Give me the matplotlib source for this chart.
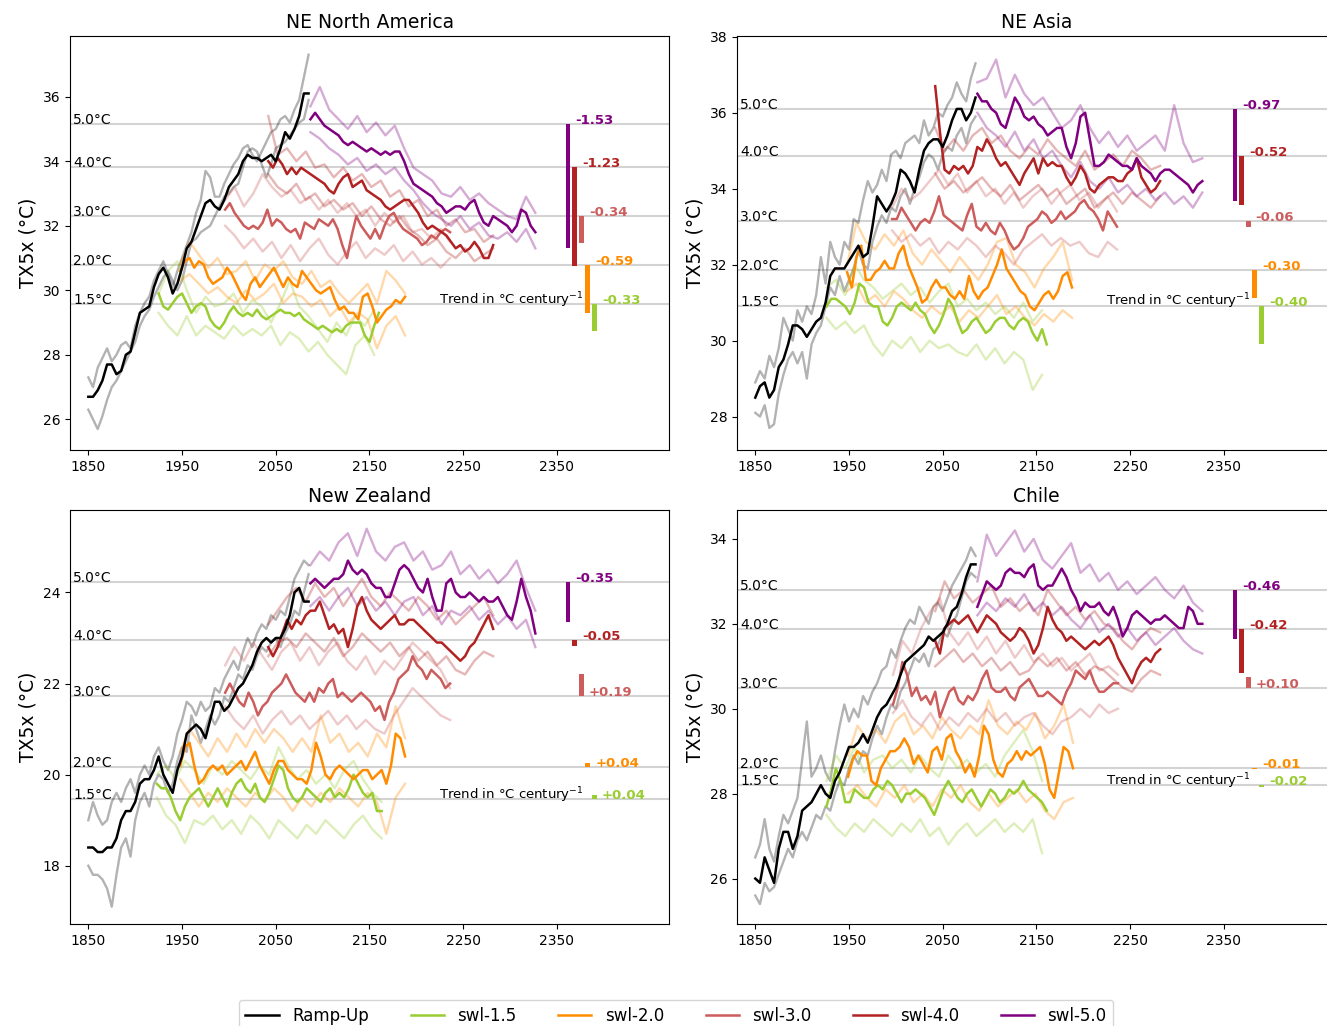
import numpy as np
import matplotlib
matplotlib.use("Agg")
import matplotlib.pyplot as plt
from matplotlib.lines import Line2D
from matplotlib.ticker import MultipleLocator

# TX5x series: ramp-up and ensemble means every 5 years, members every 10 years
LEVEL_NAMES = ['1.5°C', '2.0°C', '3.0°C', '4.0°C', '5.0°C']
SCENARIOS = ['swl-1.5', 'swl-2.0', 'swl-3.0', 'swl-4.0', 'swl-5.0']

# ---------------- NE North America ----------------
NENA_START = [1925, 1948, 1996, 2042, 2087]
NENA_LEVELS = [29.56, 30.78, 32.31, 33.83, 35.14]
NENA_TRENDS = [-0.33, -0.59, -0.34, -1.23, -1.53]
NENA_RAMP = [26.7, 26.7, 26.9, 27.2, 27.7, 27.7, 27.4, 27.5, 28.0, 28.1,
             28.7, 29.3, 29.4, 29.5, 30.1, 30.5, 30.7, 30.4, 29.9, 30.2,
             30.7, 31.3, 31.5, 31.9, 32.3, 32.7, 32.8, 32.6, 32.5, 32.8,
             33.2, 33.4, 33.6, 34.0, 34.2, 34.1, 34.1, 34.0, 34.1, 34.2,
             34.0, 34.4, 34.9, 34.7, 35.0, 35.4, 36.1, 36.1]
NENA_RAMP_M1 = [27.3, 27.0, 27.6, 27.9, 28.2, 27.8, 28.0, 28.3, 28.4, 28.2,
                28.9, 29.3, 29.6, 29.8, 30.3, 30.6, 30.9, 30.5, 30.1, 30.6,
                31.0, 31.4, 31.8, 32.4, 32.8, 33.7, 33.5, 32.9, 32.9, 33.3,
                33.6, 33.9, 34.1, 34.4, 34.5, 34.2, 34.0, 34.3, 34.6, 34.9,
                35.0, 35.3, 35.4, 35.2, 35.6, 35.9, 36.6, 37.3]
NENA_RAMP_M2 = [26.3, 26.0, 25.7, 26.1, 26.6, 27.0, 27.2, 27.5, 27.8, 28.1,
                28.4, 28.9, 29.2, 29.4, 29.8, 30.1, 30.4, 30.6, 30.3, 30.0,
                30.3, 30.9, 31.5, 31.6, 31.8, 31.9, 32.0, 32.3, 32.6, 32.9,
                33.0, 33.2, 33.3, 33.8, 34.3, 34.4, 34.3, 33.9, 33.5, 33.9,
                34.4, 34.5, 34.6, 34.8, 35.0, 35.2, 35.3, 35.9]
NENA_15 = [29.9, 29.5, 29.4, 29.6, 29.8, 29.9, 29.6, 29.3, 29.5, 29.6,
           29.5, 29.1, 28.9, 28.8, 29.0, 29.3, 29.5, 29.3, 29.2, 29.3,
           29.2, 29.4, 29.2, 29.1, 29.2, 29.3, 29.4, 29.3, 29.3, 29.2,
           29.3, 29.1, 29.0, 28.9, 28.8, 28.9, 28.8, 28.7, 28.8, 28.7,
           28.9, 29.0, 29.0, 29.0, 28.6, 28.4, 28.9, 29.3]
NENA_15_M1 = [29.9, 30.6, 30.9, 30.0, 29.3, 29.8, 29.5, 29.6, 29.9, 29.3, 29.7, 29.5,
              29.0, 29.6, 30.3, 29.5, 29.2, 28.8, 28.4, 29.0, 28.6, 29.2, 28.9, 29.4]
NENA_15_M2 = [29.3, 28.9, 28.6, 29.2, 28.6, 28.9, 28.7, 28.5, 28.9, 28.6, 28.8, 28.6,
              28.9, 28.3, 28.7, 28.5, 28.1, 28.4, 28.0, 27.7, 27.4, 28.3, 28.6, 28.0]
NENA_20 = [30.6, 30.9, 31.0, 30.7, 30.9, 30.8, 30.4, 30.2, 30.3, 30.4,
           30.7, 30.5, 30.2, 29.9, 29.7, 30.2, 30.4, 30.1, 30.3, 30.5,
           30.7, 30.4, 30.1, 30.4, 30.2, 30.1, 30.6, 30.4, 30.2, 30.0,
           29.9, 30.0, 30.1, 29.7, 29.4, 29.5, 29.3, 29.3, 29.1, 29.8,
           29.9, 29.5, 29.0, 29.2, 29.4, 29.5, 29.7, 29.6, 29.8]
NENA_20_M1 = [30.8, 31.5, 31.1, 30.7, 31.0, 30.5, 30.6, 30.9, 30.3, 30.8, 30.6, 30.9, 30.4,
              30.2, 30.6, 30.1, 30.3, 29.9, 29.6, 29.9, 30.2, 29.6, 30.6, 30.3, 29.9]
NENA_20_M2 = [30.3, 30.5, 30.2, 29.9, 30.1, 29.8, 29.6, 30.0, 29.7, 29.9, 30.2, 29.6, 29.9,
              29.8, 29.5, 29.7, 29.2, 29.5, 29.0, 29.3, 29.1, 28.2, 28.9, 29.2, 28.6]
NENA_30 = [32.5, 32.7, 32.4, 32.2, 32.0, 31.9, 32.0, 31.9, 32.1, 32.5,
           32.0, 32.2, 32.1, 31.9, 31.8, 31.9, 31.6, 32.1, 32.0, 31.9,
           32.2, 32.1, 32.0, 32.2, 31.9, 31.4, 31.0, 31.7, 32.3, 32.0,
           31.8, 31.6, 31.9, 31.6, 32.0, 32.3, 32.4, 32.1, 31.9, 31.8,
           31.7, 31.6, 31.4, 31.5, 31.7, 31.6, 31.8, 31.9, 31.8]
NENA_30_M1 = [32.8, 33.2, 32.6, 33.0, 33.6, 33.2, 32.9, 33.1, 32.7, 32.9, 32.5, 32.8, 32.4,
              32.7, 32.3, 32.5, 32.0, 32.4, 32.1, 32.3, 31.8, 31.9, 31.6, 31.9, 31.5]
NENA_30_M2 = [32.0, 31.7, 31.3, 31.6, 31.2, 31.5, 31.0, 31.4, 30.9, 31.3, 31.6, 31.1, 30.8,
              31.2, 31.5, 31.0, 31.3, 31.1, 31.4, 30.9, 31.2, 30.8, 31.0, 30.7, 31.0]
NENA_40 = [34.0, 33.8, 34.1, 33.9, 33.6, 33.8, 33.6, 33.8, 33.7, 33.6,
           33.5, 33.4, 33.3, 33.1, 33.0, 33.3, 33.5, 33.6, 33.2, 33.3,
           33.4, 33.1, 33.0, 32.9, 32.8, 32.6, 32.5, 32.6, 32.7, 32.8,
           32.8, 32.6, 32.4, 32.1, 31.9, 32.0, 31.9, 31.8, 31.7, 31.5,
           31.3, 31.4, 31.2, 31.3, 31.5, 31.3, 31.0, 31.0, 31.4]
NENA_40_M1 = [35.4, 34.2, 34.4, 34.0, 34.3, 33.8, 33.9, 33.5, 33.8, 33.4, 33.6, 33.2, 33.4,
              32.9, 33.1, 32.6, 32.8, 32.3, 32.5, 32.0, 32.2, 31.8, 31.9, 31.5, 31.7]
NENA_40_M2 = [33.6, 33.2, 33.0, 33.3, 32.8, 33.0, 32.6, 32.8, 32.5, 32.7, 32.3, 32.6, 32.2,
              32.0, 32.3, 31.9, 31.7, 31.4, 31.6, 31.2, 31.0, 31.3, 30.9, 31.1, 31.3]
NENA_50 = [35.3, 35.5, 35.3, 35.1, 35.0, 34.9, 34.8, 34.6, 34.5, 34.6,
           34.5, 34.4, 34.3, 34.4, 34.3, 34.2, 34.3, 34.2, 34.3, 34.3,
           34.0, 33.6, 33.3, 33.2, 33.1, 33.0, 32.9, 32.7, 32.6, 32.4,
           32.5, 32.6, 32.6, 32.5, 32.7, 32.8, 32.4, 32.1, 32.0, 32.3,
           32.2, 32.1, 32.0, 31.8, 32.0, 32.5, 32.4, 32.0, 31.8]
NENA_50_M1 = [35.7, 36.3, 35.6, 35.3, 35.0, 35.4, 34.9, 35.2, 34.8, 35.1, 34.4, 33.8, 33.6,
              33.4, 33.0, 32.9, 33.2, 32.8, 33.0, 32.7, 32.5, 32.3, 32.2, 32.9, 32.4]
NENA_50_M2 = [34.9, 34.7, 34.4, 34.2, 33.9, 34.1, 33.7, 33.9, 33.6, 33.8, 33.4, 33.1, 32.7,
              32.4, 32.2, 32.0, 32.3, 31.9, 32.1, 31.7, 31.6, 31.8, 31.5, 31.9, 31.3]

# ---------------- NE Asia ----------------
NEAS_START = [1926, 1948, 1996, 2042, 2087]
NEAS_LEVELS = [30.92, 31.86, 33.15, 34.86, 36.11]
NEAS_TRENDS = [-0.40, -0.30, -0.06, -0.52, -0.97]
NEAS_RAMP = [28.5, 28.8, 28.9, 28.5, 28.7, 29.3, 29.5, 29.9, 30.4, 30.4,
             30.3, 30.1, 30.3, 30.5, 30.6, 31.0, 31.7, 31.9, 31.9, 31.9,
             32.1, 32.3, 32.5, 32.2, 32.3, 33.0, 33.8, 33.6, 33.4, 33.6,
             33.9, 34.5, 34.4, 34.2, 33.9, 34.5, 35.0, 35.2, 35.3, 35.3,
             35.1, 35.4, 35.8, 36.1, 36.1, 35.8, 36.0, 36.4]
NEAS_RAMP_M1 = [28.9, 29.2, 29.0, 29.6, 29.3, 29.8, 30.6, 30.3, 30.0, 30.8,
                30.5, 30.9, 30.7, 31.2, 32.2, 31.5, 32.6, 32.2, 32.0, 32.6,
                32.4, 33.2, 33.1, 33.7, 34.2, 33.9, 34.1, 34.5, 34.2, 34.9,
                35.0, 34.8, 35.2, 35.3, 35.4, 35.2, 35.8, 35.4, 35.6, 36.0,
                35.9, 36.2, 36.4, 36.8, 36.5, 36.3, 36.9, 37.3]
NEAS_RAMP_M2 = [28.1, 28.0, 28.3, 27.7, 27.8, 28.6, 29.1, 29.5, 29.7, 29.4,
                29.7, 29.0, 29.9, 30.2, 30.4, 30.9, 31.4, 31.2, 31.7, 31.3,
                31.6, 31.9, 32.4, 32.0, 31.9, 32.6, 33.0, 33.3, 33.1, 33.5,
                33.4, 33.8, 34.0, 33.6, 34.0, 34.3, 34.7, 34.9, 34.8, 34.5,
                34.9, 35.1, 35.0, 35.4, 35.6, 35.2, 35.7, 35.9]
NEAS_15 = [30.9, 31.1, 31.1, 31.0, 30.9, 30.7, 31.0, 31.5, 31.4, 31.0,
           30.9, 30.9, 30.5, 30.4, 30.6, 30.9, 31.0, 30.9, 30.8, 31.0,
           30.8, 30.7, 30.4, 30.2, 30.4, 30.7, 31.1, 30.9, 30.5, 30.2,
           30.3, 30.5, 30.6, 30.4, 30.2, 30.3, 30.5, 30.6, 30.6, 30.4,
           30.3, 30.5, 30.6, 30.5, 30.2, 30.0, 30.3, 29.9]
NEAS_15_M1 = [31.4, 31.6, 31.2, 32.0, 31.6, 31.4, 31.1, 31.3, 31.5, 31.2, 31.4, 31.0,
              31.3, 31.5, 30.9, 31.1, 30.8, 31.0, 30.7, 30.9, 30.6, 31.0, 30.5, 30.8]
NEAS_15_M2 = [30.6, 30.3, 30.5, 30.2, 30.4, 29.9, 29.6, 30.0, 29.8, 30.1, 29.7, 30.0,
              29.8, 29.9, 29.7, 29.6, 29.9, 29.5, 29.8, 29.4, 29.7, 29.5, 28.7, 29.1]
NEAS_20 = [31.8, 31.4, 32.2, 32.5, 31.6, 31.6, 31.8, 31.9, 32.1, 31.9,
           31.9, 32.3, 32.5, 32.0, 31.7, 31.4, 31.0, 31.1, 31.4, 31.6,
           31.4, 31.4, 31.2, 31.1, 31.3, 31.1, 31.7, 31.3, 31.1, 31.3,
           31.4, 31.7, 32.0, 32.4, 31.9, 31.7, 31.5, 31.3, 31.2, 30.9,
           30.8, 31.0, 31.2, 31.3, 31.1, 31.3, 31.7, 31.8, 31.4]
NEAS_20_M1 = [32.0, 33.1, 32.6, 32.4, 32.8, 32.5, 32.9, 32.3, 32.0, 32.4, 32.1, 31.8, 32.2,
              31.9, 31.6, 32.0, 32.6, 32.7, 32.0, 31.8, 31.4, 31.9, 32.2, 32.6, 31.6]
NEAS_20_M2 = [31.3, 31.5, 31.0, 31.2, 30.9, 31.3, 31.1, 30.8, 30.6, 30.9, 30.7, 30.9, 30.5,
              30.8, 30.6, 30.9, 31.2, 30.7, 30.9, 30.6, 30.4, 30.7, 30.5, 30.8, 30.6]
NEAS_30 = [33.2, 33.2, 33.5, 33.3, 33.1, 32.9, 33.1, 33.2, 33.1, 33.4,
           33.8, 33.3, 33.2, 33.1, 33.0, 32.9, 33.3, 33.6, 33.0, 32.9,
           33.1, 32.9, 32.8, 33.1, 32.9, 32.6, 32.4, 32.5, 32.7, 33.0,
           33.1, 33.2, 33.4, 33.3, 33.1, 33.2, 33.4, 33.2, 33.3, 33.4,
           33.6, 33.7, 33.5, 33.4, 33.2, 32.9, 33.4, 33.2, 33.0]
NEAS_30_M1 = [33.5, 34.0, 33.7, 33.9, 34.2, 34.5, 34.1, 34.4, 33.9, 34.2, 33.8, 34.0, 33.6,
              33.9, 33.5, 33.8, 34.0, 33.6, 33.9, 34.1, 33.7, 33.9, 33.5, 33.8, 33.4]
NEAS_30_M2 = [32.9, 32.6, 32.8, 32.5, 32.7, 32.3, 32.6, 32.4, 32.7, 32.5, 32.2, 32.5, 32.3,
              32.0, 32.4, 32.6, 32.8, 32.5, 32.7, 32.5, 32.6, 32.3, 32.2, 32.6, 32.4]
NEAS_40 = [36.7, 35.5, 34.5, 34.4, 34.6, 34.5, 34.6, 34.4, 34.6, 35.1,
           35.0, 35.3, 35.1, 34.8, 34.6, 34.7, 34.5, 34.3, 34.1, 34.4,
           34.6, 34.8, 34.4, 34.8, 34.6, 34.7, 34.6, 34.6, 34.3, 34.1,
           34.3, 34.6, 34.4, 34.0, 33.9, 34.1, 34.2, 34.3, 34.3, 34.2,
           34.2, 34.4, 34.5, 34.8, 34.3, 34.1, 33.9, 34.0, 34.2]
NEAS_40_M1 = [35.6, 35.0, 35.3, 35.0, 35.4, 35.6, 35.2, 35.4, 35.0, 34.8, 35.1, 34.9, 35.3,
              35.0, 34.8, 34.6, 35.0, 34.5, 34.7, 34.9, 34.6, 35.0, 34.8, 34.5, 34.6]
NEAS_40_M2 = [34.4, 34.0, 34.2, 33.9, 34.1, 34.3, 34.0, 33.8, 34.1, 33.7, 33.9, 34.1, 33.8,
              34.0, 33.6, 33.8, 34.0, 33.5, 33.7, 33.9, 33.6, 33.9, 33.7, 33.5, 33.8]
NEAS_50 = [36.5, 36.3, 36.3, 36.1, 36.0, 35.7, 35.6, 36.0, 36.4, 36.2,
           35.9, 35.8, 35.9, 35.7, 35.6, 35.4, 35.5, 35.6, 35.6, 35.1,
           34.8, 35.2, 35.9, 36.0, 35.3, 34.6, 34.6, 34.7, 34.9, 34.8,
           34.7, 34.6, 34.6, 34.5, 34.8, 34.6, 34.5, 34.4, 34.2, 34.4,
           34.5, 34.5, 34.4, 34.3, 34.2, 34.1, 33.9, 34.1, 34.2]
NEAS_50_M1 = [36.8, 36.9, 37.4, 36.4, 37.0, 36.5, 36.2, 36.4, 36.0, 35.6, 35.8, 36.2, 35.6,
              35.2, 35.5, 35.1, 35.4, 35.0, 35.2, 35.4, 35.0, 36.2, 35.2, 34.7, 34.8]
NEAS_50_M2 = [36.0, 35.6, 35.4, 35.1, 35.5, 35.0, 35.3, 34.8, 35.0, 34.6, 34.3, 34.7, 34.2,
              34.0, 34.3, 33.9, 34.1, 33.8, 34.0, 33.7, 33.9, 33.6, 33.8, 33.5, 33.9]

# ---------------- New Zealand ----------------
NZ_START = [1923, 1948, 1996, 2042, 2087]
NZ_LEVELS = [19.46, 20.16, 21.73, 22.95, 24.23]
NZ_TRENDS = [0.04, 0.04, 0.19, -0.05, -0.35]
NZ_RAMP = [18.4, 18.4, 18.3, 18.3, 18.4, 18.4, 18.6, 19.0, 19.2, 19.2,
           19.4, 19.8, 19.9, 19.9, 20.1, 20.4, 20.0, 19.8, 19.6, 20.1,
           20.4, 20.9, 21.0, 21.1, 21.0, 20.8, 21.2, 21.6, 21.6, 21.4,
           21.5, 21.7, 21.9, 22.0, 22.2, 22.4, 22.7, 22.9, 23.0, 22.9,
           23.0, 23.0, 23.2, 23.5, 24.0, 24.1, 23.8, 23.8]
NZ_RAMP_M1 = [19.0, 19.4, 19.1, 18.9, 19.0, 19.4, 19.6, 19.4, 19.7, 19.9,
              19.6, 20.0, 20.2, 20.0, 20.4, 20.6, 20.3, 20.1, 20.4, 20.9,
              21.2, 21.6, 21.5, 21.3, 21.6, 21.4, 21.5, 21.9, 21.8, 22.1,
              22.3, 22.5, 22.3, 22.7, 23.0, 22.8, 23.1, 23.3, 23.2, 23.5,
              23.4, 23.6, 23.5, 23.9, 24.3, 24.5, 24.7, 24.6]
NZ_RAMP_M2 = [18.0, 17.8, 17.8, 17.7, 17.5, 17.1, 17.8, 18.4, 18.6, 18.2,
              19.0, 19.4, 19.6, 19.3, 19.8, 20.0, 19.9, 19.6, 19.8, 20.3,
              20.6, 20.5, 21.3, 21.0, 20.7, 21.0, 21.3, 21.1, 21.3, 21.7,
              21.6, 21.9, 22.2, 22.1, 22.4, 22.3, 22.6, 22.8, 22.7, 22.9,
              23.0, 22.8, 23.1, 23.3, 23.6, 23.5, 24.0, 24.4]
NZ_15 = [19.8, 19.7, 19.7, 19.5, 19.2, 19.0, 19.3, 19.5, 19.6, 19.7,
         19.5, 19.3, 19.5, 19.7, 19.5, 19.3, 19.6, 19.8, 19.9, 19.7,
         19.6, 19.8, 19.5, 19.4, 19.6, 19.9, 20.2, 20.1, 19.7, 19.5,
         19.4, 19.5, 19.7, 19.6, 19.5, 19.4, 19.6, 19.7, 19.5, 19.6,
         19.5, 19.7, 20.0, 19.8, 19.6, 19.5, 19.6, 19.2, 19.2]
NZ_15_M1 = [20.0, 20.2, 19.9, 20.3, 20.1, 19.8, 20.2, 20.0, 20.3, 20.1, 19.9, 20.2, 20.0,
            20.6, 20.2, 19.9, 20.1, 19.8, 20.0, 19.7, 20.1, 20.3, 19.9, 19.6, 19.4]
NZ_15_M2 = [19.5, 19.1, 18.9, 18.5, 19.0, 18.9, 19.1, 18.8, 19.0, 18.7, 19.1, 18.9, 18.6,
            19.0, 18.8, 18.6, 18.9, 18.7, 19.0, 18.8, 18.6, 18.9, 19.1, 18.8, 18.6]
NZ_20 = [20.2, 20.6, 20.7, 20.2, 19.8, 19.9, 20.1, 20.2, 20.1, 20.2,
         20.0, 20.1, 20.2, 20.3, 20.1, 20.3, 20.5, 20.2, 20.0, 19.8,
         20.1, 20.3, 20.3, 20.1, 20.0, 19.9, 19.9, 19.8, 20.1, 20.7,
         20.4, 20.0, 19.9, 20.1, 20.2, 20.1, 20.0, 19.9, 20.0, 20.1,
         20.1, 19.9, 20.0, 20.1, 19.8, 20.2, 20.9, 20.8, 20.4]
NZ_20_M1 = [20.5, 21.0, 20.7, 20.4, 20.8, 20.5, 20.9, 20.6, 21.0, 20.7, 21.0, 20.8, 20.5,
            20.8, 20.5, 21.3, 20.7, 20.9, 20.5, 20.7, 20.4, 20.9, 20.6, 21.5, 20.8]
NZ_20_M2 = [19.9, 19.6, 19.3, 19.6, 19.4, 19.7, 19.5, 19.3, 19.6, 19.4, 19.7, 19.5, 19.2,
            19.5, 19.3, 19.6, 19.4, 19.7, 19.5, 19.3, 19.6, 19.4, 18.7, 19.5, 19.8]
NZ_30 = [21.8, 22.0, 21.8, 21.6, 21.5, 21.8, 21.6, 21.3, 21.5, 21.6,
         21.8, 21.9, 22.0, 22.2, 22.0, 21.8, 21.7, 21.6, 21.8, 21.6,
         21.9, 21.8, 22.0, 22.1, 21.7, 21.8, 21.7, 21.6, 21.7, 21.8,
         21.7, 21.6, 21.4, 21.5, 21.2, 21.6, 21.8, 22.1, 22.2, 22.3,
         22.6, 22.4, 22.3, 22.1, 22.3, 22.2, 22.1, 21.9, 22.0]
NZ_30_M1 = [22.4, 22.8, 22.5, 22.9, 22.6, 22.3, 22.7, 22.9, 22.5, 22.8, 22.4, 22.7, 22.9,
            22.5, 22.3, 22.6, 22.2, 22.5, 22.3, 22.6, 22.9, 22.7, 22.5, 22.3, 21.9]
NZ_30_M2 = [21.5, 21.2, 21.0, 21.3, 20.9, 21.2, 21.4, 21.1, 21.3, 21.0, 21.2, 21.4, 21.1,
            21.3, 21.0, 21.2, 21.0, 20.9, 21.3, 21.6, 21.9, 21.7, 21.5, 21.3, 21.2]
NZ_40 = [22.8, 22.6, 22.8, 23.1, 23.4, 23.2, 23.4, 23.3, 23.5, 23.6,
         23.6, 23.8, 23.5, 23.2, 23.3, 23.1, 23.2, 22.8, 23.2, 23.7,
         23.9, 23.6, 23.4, 23.3, 23.2, 23.3, 23.4, 23.5, 23.3, 23.3,
         23.4, 23.4, 23.3, 23.2, 23.1, 23.0, 22.9, 22.9, 22.8, 22.7,
         22.6, 22.5, 22.6, 22.8, 22.9, 23.1, 23.3, 23.5, 23.2]
NZ_40_M1 = [23.3, 23.6, 23.9, 24.1, 23.8, 24.2, 23.9, 24.1, 23.7, 24.0, 24.3, 23.9, 23.7,
            24.0, 23.8, 23.6, 23.9, 23.7, 23.4, 23.6, 23.3, 23.5, 23.7, 23.9, 23.5]
NZ_40_M2 = [22.6, 22.9, 23.0, 22.8, 23.1, 22.9, 22.7, 23.0, 22.6, 22.8, 23.1, 22.9, 22.7,
            22.9, 22.6, 22.8, 22.5, 22.7, 22.4, 22.6, 22.3, 22.2, 22.5, 22.7, 22.6]
NZ_50 = [24.2, 24.3, 24.2, 24.1, 24.2, 24.3, 24.3, 24.4, 24.7, 24.5,
         24.4, 24.5, 24.4, 24.2, 24.1, 24.1, 23.9, 23.9, 24.2, 24.5,
         24.6, 24.5, 24.3, 24.1, 24.0, 24.3, 23.9, 23.6, 23.6, 24.2,
         24.3, 24.0, 23.9, 23.9, 24.0, 23.9, 23.8, 23.9, 23.8, 23.8,
         23.9, 23.7, 23.5, 23.4, 23.8, 24.3, 23.9, 23.6, 23.1]
NZ_50_M1 = [24.6, 24.9, 24.7, 25.1, 25.3, 24.8, 25.4, 24.9, 24.7, 25.0, 25.1, 24.7, 24.9,
            24.5, 24.6, 24.9, 24.4, 24.6, 24.3, 24.5, 24.2, 24.4, 24.7, 24.1, 23.6]
NZ_50_M2 = [23.7, 23.9, 23.6, 23.9, 24.1, 23.7, 23.9, 23.6, 23.8, 23.5, 23.8, 23.9, 23.5,
            23.7, 23.3, 23.6, 23.5, 23.7, 23.4, 23.6, 23.3, 23.5, 23.2, 23.4, 22.8]

# ---------------- Chile ----------------
CL_START = [1926, 1949, 1997, 2042, 2087]
CL_LEVELS = [28.20, 28.61, 30.50, 31.88, 32.80]
CL_TRENDS = [-0.02, -0.01, 0.10, -0.42, -0.46]
CL_RAMP = [26.0, 25.9, 26.5, 26.2, 25.9, 26.7, 27.1, 27.1, 26.7, 27.0,
           27.6, 27.7, 27.8, 28.0, 28.2, 28.0, 27.9, 28.3, 28.5, 28.8,
           29.1, 29.1, 29.2, 29.4, 29.2, 29.5, 29.8, 30.0, 30.1, 30.3,
           30.5, 30.8, 31.1, 31.2, 31.3, 31.4, 31.5, 31.7, 31.6, 31.7,
           31.8, 32.0, 32.3, 32.4, 32.7, 33.1, 33.4, 33.4]
CL_RAMP_M1 = [26.5, 26.8, 27.4, 26.7, 26.4, 27.0, 27.5, 27.3, 27.6, 27.9,
              28.8, 29.7, 28.4, 28.6, 28.9, 28.5, 28.3, 29.0, 29.6, 30.1,
              29.7, 30.0, 29.8, 30.3, 30.1, 30.4, 30.6, 30.9, 31.0, 31.4,
              31.2, 31.6, 31.9, 32.1, 32.0, 32.4, 32.2, 32.0, 32.4, 32.5,
              32.3, 32.6, 32.9, 33.1, 33.3, 33.5, 33.8, 33.6]
CL_RAMP_M2 = [25.6, 25.4, 25.9, 25.7, 25.8, 26.1, 26.4, 26.7, 26.5, 26.9,
              27.1, 26.9, 27.2, 27.5, 27.4, 27.7, 27.6, 28.0, 28.3, 28.2,
              28.6, 28.9, 28.7, 29.0, 28.9, 29.3, 29.6, 29.4, 29.8, 30.1,
              30.0, 30.4, 30.6, 30.9, 31.2, 31.1, 31.3, 31.0, 31.4, 31.5,
              31.8, 31.7, 32.0, 32.2, 32.6, 33.0, 33.2, 33.1]
CL_15 = [27.7, 28.1, 28.6, 28.3, 27.8, 27.8, 28.1, 28.0, 27.9, 27.9,
         28.1, 28.2, 28.1, 28.3, 28.2, 28.0, 27.8, 28.0, 28.0, 28.1,
         28.0, 27.9, 27.7, 27.5, 27.8, 28.1, 28.3, 28.1, 27.9, 27.8,
         28.0, 28.1, 27.9, 27.7, 27.9, 28.1, 28.0, 27.8, 27.9, 28.1,
         28.0, 28.1, 28.3, 28.1, 28.0, 27.9, 27.8, 27.6]
CL_15_M1 = [28.3, 28.9, 28.6, 29.1, 28.5, 28.8, 28.9, 28.6, 28.8, 28.5, 28.9, 28.6,
            28.4, 28.9, 28.6, 28.8, 28.5, 28.7, 28.4, 28.9, 29.2, 29.5, 29.0, 28.3]
CL_15_M2 = [27.5, 27.2, 27.0, 27.3, 27.1, 27.4, 27.2, 27.0, 27.3, 27.1, 27.4, 27.0,
            27.2, 26.8, 27.1, 27.3, 27.0, 27.2, 27.4, 27.1, 27.3, 27.1, 27.4, 26.6]
CL_20 = [28.4, 28.8, 29.0, 28.9, 28.9, 28.3, 28.2, 28.6, 28.8, 29.0,
         29.0, 29.1, 29.3, 29.1, 28.7, 28.9, 28.7, 28.5, 29.0, 29.1,
         28.8, 29.3, 29.4, 29.0, 28.8, 28.5, 28.7, 28.4, 28.9, 29.6,
         29.4, 28.8, 28.5, 28.4, 28.7, 28.8, 29.0, 28.8, 29.0, 28.9,
         29.0, 29.1, 28.7, 28.1, 27.9, 28.5, 29.1, 29.0, 28.6]
CL_20_M1 = [28.9, 29.6, 29.3, 29.5, 29.2, 29.7, 29.9, 29.4, 29.6, 29.3, 29.8, 29.5, 29.3,
            29.6, 29.4, 30.2, 29.6, 29.4, 29.7, 29.5, 29.9, 29.3, 29.6, 30.1, 29.2]
CL_20_M2 = [28.0, 28.2, 27.9, 27.7, 28.1, 27.9, 28.2, 27.8, 28.0, 27.7, 28.1, 27.9, 28.2,
            27.8, 27.6, 28.0, 27.7, 27.9, 28.1, 27.8, 28.0, 27.6, 27.4, 27.8, 27.9]
CL_30 = [30.1, 30.5, 31.1, 30.8, 30.3, 30.5, 30.2, 30.3, 30.1, 30.4,
         29.8, 30.1, 30.4, 30.5, 30.2, 30.1, 30.3, 30.2, 30.4, 30.7,
         30.9, 30.5, 30.4, 30.4, 30.5, 30.3, 30.2, 30.5, 30.6, 30.7,
         30.5, 30.3, 30.3, 30.4, 30.3, 30.2, 30.1, 30.4, 30.6, 30.9,
         30.8, 30.7, 30.9, 30.6, 30.4, 30.4, 30.5, 30.6, 30.6]
CL_30_M1 = [30.8, 31.6, 31.3, 31.9, 32.3, 32.6, 31.8, 31.5, 31.8, 31.4, 31.7, 31.3, 31.6,
            31.2, 31.5, 31.1, 31.3, 31.0, 31.2, 30.9, 31.1, 31.3, 30.9, 31.0, 30.8]
CL_30_M2 = [29.9, 30.2, 29.8, 29.6, 29.9, 29.5, 29.8, 29.6, 29.9, 29.7, 30.0, 29.7, 29.9,
            29.6, 29.8, 29.9, 29.6, 29.4, 29.7, 29.8, 30.0, 29.8, 30.1, 29.9, 30.0]
CL_40 = [31.6, 31.3, 31.9, 32.0, 32.1, 32.0, 32.1, 32.2, 32.0, 31.8,
         32.0, 32.2, 32.1, 32.0, 31.8, 31.7, 31.6, 31.7, 31.9, 31.8,
         31.6, 31.3, 31.5, 31.9, 32.4, 32.1, 31.9, 31.8, 31.6, 31.7,
         31.6, 31.5, 31.4, 31.5, 31.6, 31.5, 31.6, 31.7, 31.5, 31.2,
         31.0, 30.8, 30.6, 30.9, 31.1, 31.2, 31.1, 31.3, 31.4]
CL_40_M1 = [32.3, 33.0, 32.6, 32.8, 32.5, 32.7, 32.9, 32.4, 32.6, 32.3, 32.5, 32.2, 32.8,
            32.5, 32.2, 32.4, 32.1, 32.3, 32.0, 31.9, 31.6, 31.4, 31.7, 31.9, 31.8]
CL_40_M2 = [31.0, 31.2, 31.4, 31.1, 31.3, 31.0, 31.2, 30.9, 31.1, 30.8, 30.9, 31.2, 31.0,
            31.2, 30.9, 31.1, 30.8, 31.0, 30.9, 30.7, 30.5, 30.4, 30.7, 30.9, 30.8]
CL_50 = [32.4, 32.7, 33.0, 32.9, 32.8, 32.9, 33.2, 33.3, 33.2, 33.2,
         33.1, 33.3, 33.4, 32.9, 32.8, 32.9, 32.9, 33.1, 33.3, 33.1,
         32.8, 32.6, 32.3, 32.5, 32.4, 32.4, 32.5, 32.3, 32.2, 32.4,
         32.1, 31.7, 31.9, 32.2, 32.3, 32.2, 32.1, 32.0, 32.1, 32.1,
         32.2, 32.1, 32.0, 31.9, 31.9, 32.4, 32.3, 32.0, 32.0]
CL_50_M1 = [33.0, 34.1, 33.6, 33.9, 34.2, 33.7, 34.0, 33.5, 33.3, 33.6, 33.9, 33.2, 33.4,
            33.0, 33.2, 32.8, 33.0, 32.7, 32.9, 33.1, 32.8, 32.6, 32.9, 32.5, 32.3]
CL_50_M2 = [32.2, 32.5, 32.3, 32.6, 32.4, 32.7, 32.3, 32.5, 32.2, 32.4, 32.1, 31.9, 32.2,
            31.8, 32.0, 31.7, 31.9, 31.6, 31.8, 31.5, 31.7, 31.9, 31.6, 31.4, 31.3]

COLORS = ['yellowgreen', 'darkorange', 'indianred', 'firebrick', 'purple']

panels = [
    dict(title='NE North America', ylim=(25.05, 37.88), start=NENA_START,
         levels=NENA_LEVELS, trends=NENA_TRENDS,
         ramp=NENA_RAMP, ramp_members=[NENA_RAMP_M1, NENA_RAMP_M2],
         means=[NENA_15, NENA_20, NENA_30, NENA_40, NENA_50],
         members=[[NENA_15_M1, NENA_15_M2], [NENA_20_M1, NENA_20_M2],
                  [NENA_30_M1, NENA_30_M2], [NENA_40_M1, NENA_40_M2],
                  [NENA_50_M1, NENA_50_M2]]),
    dict(title='NE Asia', ylim=(27.12, 38.02), start=NEAS_START,
         levels=NEAS_LEVELS, trends=NEAS_TRENDS,
         ramp=NEAS_RAMP, ramp_members=[NEAS_RAMP_M1, NEAS_RAMP_M2],
         means=[NEAS_15, NEAS_20, NEAS_30, NEAS_40, NEAS_50],
         members=[[NEAS_15_M1, NEAS_15_M2], [NEAS_20_M1, NEAS_20_M2],
                  [NEAS_30_M1, NEAS_30_M2], [NEAS_40_M1, NEAS_40_M2],
                  [NEAS_50_M1, NEAS_50_M2]]),
    dict(title='New Zealand', ylim=(16.72, 25.81), start=NZ_START,
         levels=NZ_LEVELS, trends=NZ_TRENDS,
         ramp=NZ_RAMP, ramp_members=[NZ_RAMP_M1, NZ_RAMP_M2],
         means=[NZ_15, NZ_20, NZ_30, NZ_40, NZ_50],
         members=[[NZ_15_M1, NZ_15_M2], [NZ_20_M1, NZ_20_M2],
                  [NZ_30_M1, NZ_30_M2], [NZ_40_M1, NZ_40_M2],
                  [NZ_50_M1, NZ_50_M2]]),
    dict(title='Chile', ylim=(24.93, 34.68), start=CL_START,
         levels=CL_LEVELS, trends=CL_TRENDS,
         ramp=CL_RAMP, ramp_members=[CL_RAMP_M1, CL_RAMP_M2],
         means=[CL_15, CL_20, CL_30, CL_40, CL_50],
         members=[[CL_15_M1, CL_15_M2], [CL_20_M1, CL_20_M2],
                  [CL_30_M1, CL_30_M2], [CL_40_M1, CL_40_M2],
                  [CL_50_M1, CL_50_M2]]),
]

fig = plt.figure(figsize=(13.27, 10.26), dpi=100)
boxes = [(0.0528, 0.5614), (0.5554, 0.5614), (0.0528, 0.0994), (0.5554, 0.0994)]
W, H = 0.4514, 0.4035

# trend bars sit right of the series, green furthest out
bar_x = [2390, 2383, 2376, 2369, 2362]

for p, (left, bottom) in zip(panels, boxes):
    ax = fig.add_axes([left, bottom, W, H])

    for lvl, name in zip(p['levels'], LEVEL_NAMES):
        ax.axhline(lvl, color='lightgray', lw=1.5, zorder=0)
        ax.text(1834, lvl, name, fontsize=10, ha='left', va='baseline')

    yrs = 1850 + 5 * np.arange(len(p['ramp']))
    for m in p['ramp_members']:
        ax.plot(yrs, m, color='black', alpha=0.3, lw=1.7)

    for i in range(5):
        yrs_m = p['start'][i] + 10 * np.arange(len(p['members'][i][0]))
        for m in p['members'][i]:
            ax.plot(yrs_m, m, color=COLORS[i], alpha=0.33, lw=1.7)
    for i in range(5):
        yrs_s = p['start'][i] + 5 * np.arange(len(p['means'][i]))
        ax.plot(yrs_s, p['means'][i], color=COLORS[i], lw=1.8)

    ax.plot(yrs, p['ramp'], color='black', lw=1.8)

    # trend per century, bar length scaled to the 250-yr run
    for i in range(5):
        t = p['trends'][i]
        lvl = p['levels'][i]
        ax.bar(bar_x[i], t * 2.5, bottom=lvl, width=5, color=COLORS[i])
        ax.text(bar_x[i] + 8, lvl, f'{t:+.2f}', color=COLORS[i], fontsize=9.5,
                fontweight='bold', ha='left', va='baseline')
    ax.text(2379, p['levels'][0], 'Trend in °C century$^{-1}$', fontsize=9.5,
            ha='right', va='baseline')

    ax.set_xlim(1830.5, 2469.7)
    ax.set_ylim(*p['ylim'])
    ax.set_xticks([1850, 1950, 2050, 2150, 2250, 2350])
    ax.yaxis.set_major_locator(MultipleLocator(2))
    ax.tick_params(labelsize=10)
    ax.set_ylabel('TX5x (°C)', fontsize=13.5)
    ax.set_title(p['title'], fontsize=13.5)

handles = [Line2D([], [], color='black', lw=1.8)] + \
          [Line2D([], [], color=c, lw=1.8) for c in COLORS]
fig.legend(handles, ['Ramp-Up'] + SCENARIOS, loc='upper center',
           bbox_to_anchor=(0.5094, 0.0253), borderaxespad=0, ncol=6,
           fontsize=12, columnspacing=2.5)

fig.savefig('out.png', dpi=100)
